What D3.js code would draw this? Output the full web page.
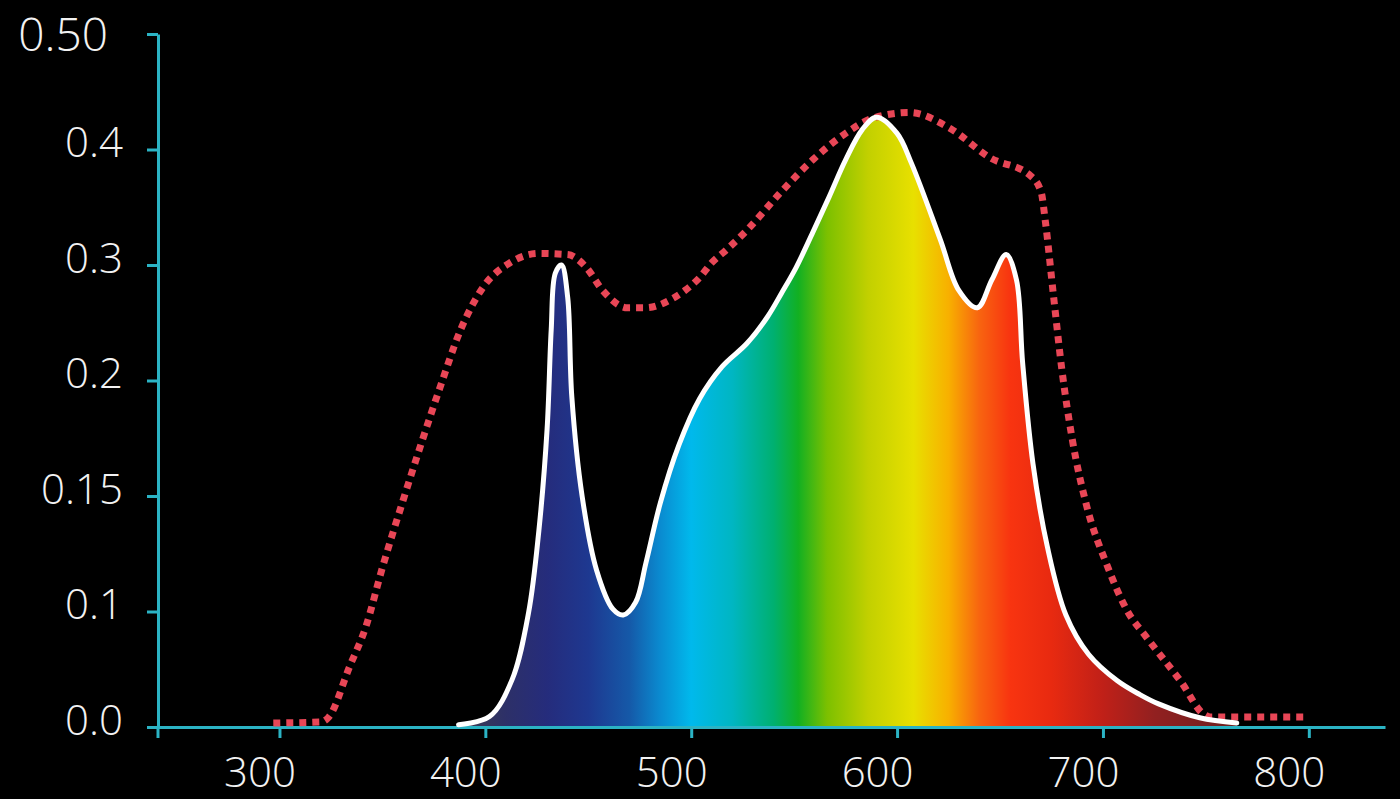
<!DOCTYPE html>
<html>
<head>
<meta charset="utf-8">
<script src="https://cdn.jsdelivr.net/npm/d3@7"></script>
<style>
  html, body { margin: 0; padding: 0; background: #000; }
  .axis path, .axis line { stroke: #2bb3c4; stroke-width: 3; }
  .axis text { fill: #f2f2f2; font-family: "Open Sans", sans-serif; font-weight: 300; font-size: 42px; }
</style>
</head>
<body>
<div class="chart"></div>
<script>
// LED spectrum (white outline, filled with the spectrum colours)
const spectrumNm = [387, 402, 413, 421, 426, 430, 432, 434, 437, 440,
    442, 447, 454, 462, 467, 473, 478, 485, 494, 504,
    515, 527, 537, 544, 551, 559, 567, 575, 583, 590,
    600, 607, 621, 630, 639, 646, 653, 658, 661, 666,
    673, 682, 693, 707, 718, 727, 747, 765];
const spectrumVal = [0.002, 0.009, 0.041, 0.099, 0.135, 0.179, 0.244, 0.293, 0.300, 0.272,
    0.193, 0.150, 0.118, 0.101, 0.097, 0.104, 0.121, 0.147, 0.172, 0.192,
    0.212, 0.232, 0.255, 0.276, 0.298, 0.328, 0.359, 0.391, 0.417, 0.428,
    0.414, 0.388, 0.322, 0.278, 0.263, 0.287, 0.309, 0.287, 0.215, 0.164,
    0.128, 0.097, 0.063, 0.040, 0.028, 0.020, 0.008, 0.0035];

// reference curve (red dotted)
const refNm = [297, 320, 324, 334, 342, 350, 360, 378, 388, 399,
    412, 426, 440, 449, 457, 469, 478, 491, 497, 504,
    510, 517, 527, 543, 559, 575, 588, 606, 626, 645,
    665, 670, 672, 676, 680, 685, 692, 702, 712, 721,
    738, 749, 752, 800];
const refVal = [0.0035, 0.0043, 0.0087, 0.052, 0.087, 0.119, 0.148, 0.197, 0.244, 0.281,
    0.302, 0.310, 0.309, 0.298, 0.278, 0.263, 0.263, 0.271, 0.278, 0.289,
    0.302, 0.313, 0.330, 0.362, 0.391, 0.414, 0.427, 0.432, 0.418, 0.393,
    0.377, 0.363, 0.338, 0.273, 0.210, 0.175, 0.146, 0.120, 0.100, 0.078,
    0.039, 0.011, 0.0087, 0.0087];

// axis ticks (y labels are evenly spaced even though the steps are not)
const yTickValues = [0, 0.1, 0.15, 0.2, 0.3, 0.4, 0.5];
const yTickLabels = ["0.0", "0.1", "0.15", "0.2", "0.3", "0.4", "0.50"];
const xTickValues = [300, 400, 500, 600, 700, 800];

// colours of the visible spectrum used for the fill
const spectrumStops = [
    [390, "#3b3b52"], [410, "#2d3068"], [430, "#252c7c"], [450, "#1e3890"],
    [470, "#1559a8"], [485, "#0a8bd0"], [500, "#00b9ec"], [520, "#00b6c2"],
    [540, "#00b070"], [552, "#12b022"], [566, "#7cc000"], [586, "#c2d000"],
    [608, "#e8e000"], [625, "#f8b000"], [640, "#f86410"], [655, "#f83410"],
    [675, "#e82a10"], [700, "#c02018"], [725, "#922020"], [765, "#6a2020"]
];

const width = 1400, height = 799;
const yTop = 34, yBottom = 727, xLeft = 158, xRight = 1385;

const svg = d3.select(".chart").append("svg")
    .attr("width", width)
    .attr("height", height)
    .style("display", "block")
    .style("background", "#000");

const xScale = d3.scaleLinear()
    .domain([241, 837])
    .range([xLeft, xRight]);

// piecewise scale: every labelled step gets the same height
const yScale = d3.scaleLinear()
    .domain(yTickValues)
    .range(yTickValues.map((d, i) => yBottom - i * (yBottom - yTop) / (yTickValues.length - 1)));

const spectrum = spectrumNm.map((d, i) => ({ nm: d, v: spectrumVal[i] }));
const reference = refNm.map((d, i) => ({ nm: d, v: refVal[i] }));

// gradient
const x0 = xScale(390), x1 = xScale(765);
const grad = svg.append("defs").append("linearGradient")
    .attr("id", "spectrum")
    .attr("gradientUnits", "userSpaceOnUse")
    .attr("x1", x0).attr("x2", x1)
    .attr("y1", 0).attr("y2", 0);
grad.selectAll("stop")
    .data(spectrumStops)
    .join("stop")
    .attr("offset", d => (xScale(d[0]) - x0) / (x1 - x0))
    .attr("stop-color", d => d[1]);

const smooth = d3.curveCatmullRom.alpha(0.5);

const area = d3.area()
    .x(d => xScale(d.nm))
    .y0(yScale(0))
    .y1(d => yScale(d.v))
    .curve(smooth);

const spectrumLine = d3.line()
    .x(d => xScale(d.nm))
    .y(d => yScale(d.v))
    .curve(smooth);

const refLine = d3.line()
    .x(d => xScale(d.nm))
    .y(d => yScale(d.v))
    .curve(d3.curveMonotoneX);

svg.append("path")
    .datum(spectrum)
    .attr("fill", "url(#spectrum)")
    .attr("d", area);

// axes
const xAxis = d3.axisBottom(xScale)
    .tickValues(xTickValues)
    .tickFormat(d3.format("d"))
    .tickSize(11)
    .tickSizeOuter(0)
    .tickPadding(19);

const yAxis = d3.axisLeft(yScale)
    .tickValues(yTickValues)
    .tickFormat((d, i) => yTickLabels[i])
    .tickSize(11)
    .tickSizeOuter(0)
    .tickPadding(24);

const gx = svg.append("g")
    .attr("class", "axis x-axis")
    .attr("transform", `translate(0, ${yBottom})`)
    .call(xAxis);
gx.selectAll("text").attr("x", -20);

const gy = svg.append("g")
    .attr("class", "axis y-axis")
    .attr("transform", `translate(${xLeft}, 0)`)
    .call(yAxis);
gy.selectAll("text").attr("dy", "0.17em");
// the top label is set a bit larger and further left
gy.selectAll(".tick text")
    .filter(d => d === yTickValues[yTickValues.length - 1])
    .attr("x", -50)
    .attr("dy", "0.36em")
    .style("font-size", "46px");

// y axis runs a little below the x axis
gy.append("line")
    .attr("x1", 0).attr("x2", 0)
    .attr("y1", yBottom).attr("y2", yBottom + 11);

svg.append("path")
    .datum(reference)
    .attr("fill", "none")
    .attr("stroke", "#e84656")
    .attr("stroke-width", 7)
    .attr("stroke-dasharray", "7 6")
    .attr("d", refLine);

svg.append("path")
    .datum(spectrum)
    .attr("fill", "none")
    .attr("stroke", "#fff")
    .attr("stroke-width", 5)
    .attr("stroke-linejoin", "round")
    .attr("stroke-linecap", "round")
    .attr("d", spectrumLine);
</script>
</body>
</html>
